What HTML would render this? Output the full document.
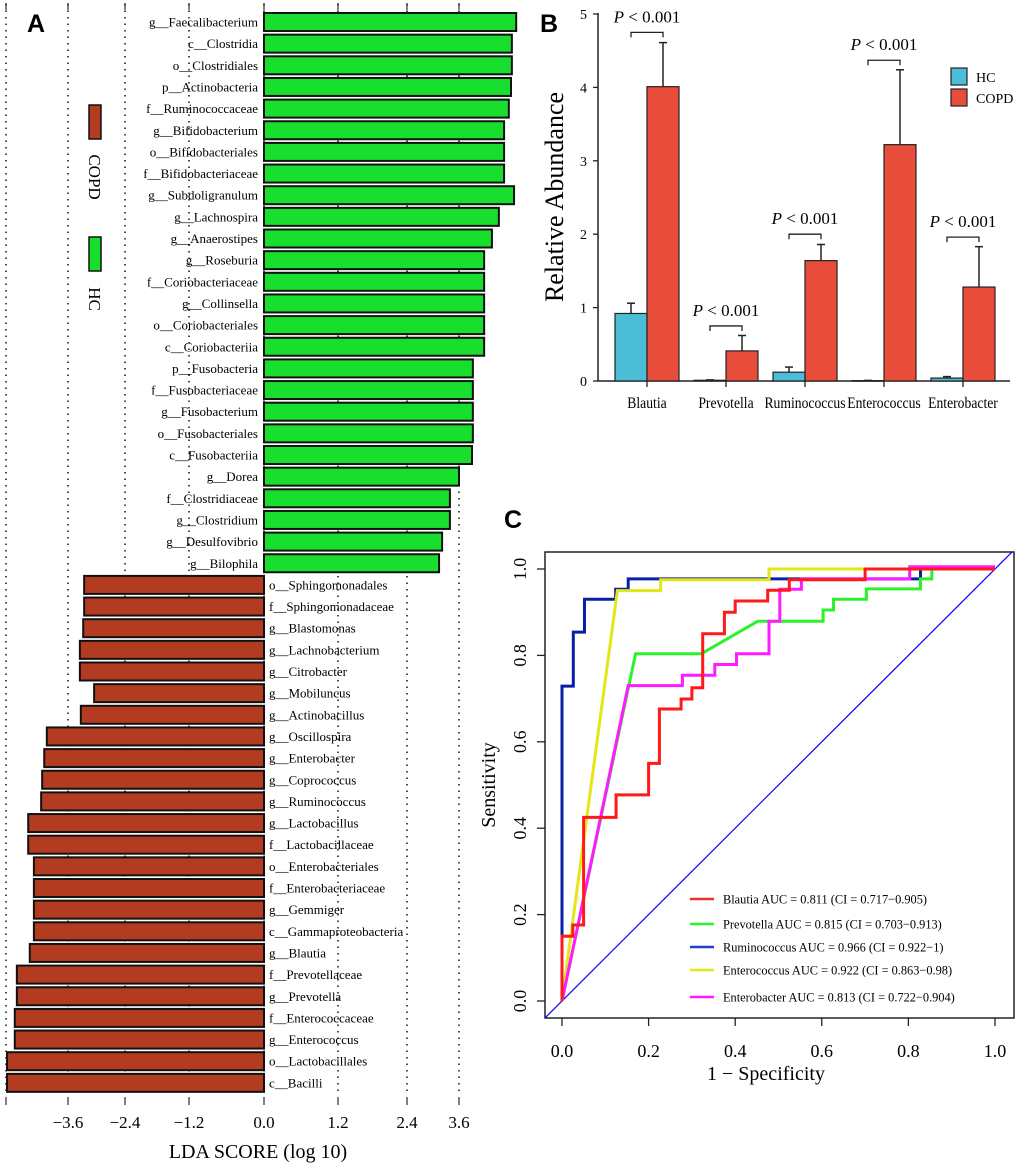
<!DOCTYPE html>
<html><head><meta charset="utf-8"><style>
html,body{margin:0;padding:0;background:#fff;}
svg{display:block;font-family:"Liberation Serif",serif;}
</style></head><body>
<svg id="fig" width="1020" height="1167" viewBox="0 0 1020 1167" xmlns="http://www.w3.org/2000/svg">
<g id="pa"></g>
<g id="pb"></g>
<g id="pc"></g>
</svg>
<script>
// ===== Panel A data =====
const ldaGreenTaxa = ["g__Faecalibacterium","c__Clostridia","o__Clostridiales","p__Actinobacteria","f__Ruminococcaceae","g__Bifidobacterium","o__Bifidobacteriales","f__Bifidobacteriaceae","g__Subdoligranulum","g__Lachnospira","g__Anaerostipes","g__Roseburia","f__Coriobacteriaceae","g__Collinsella","o__Coriobacteriales","c__Coriobacteriia","p__Fusobacteria","f__Fusobacteriaceae","g__Fusobacterium","o__Fusobacteriales","c__Fusobacteriia","g__Dorea","f__Clostridiaceae","g__Clostridium","g__Desulfovibrio","g__Bilophila"];
const ldaGreenValues = [4.92,4.82,4.82,4.80,4.75,4.64,4.64,4.64,4.87,4.52,4.36,4.18,4.18,4.18,4.18,4.18,3.92,3.92,3.92,3.92,3.90,3.60,3.39,3.39,3.21,3.14];
const ldaRedTaxa = ["o__Sphingomonadales","f__Sphingomonadaceae","g__Blastomonas","g__Lachnobacterium","g__Citrobacter","g__Mobiluncus","g__Actinobacillus","g__Oscillospira","g__Enterobacter","g__Coprococcus","g__Ruminococcus","g__Lactobacillus","f__Lactobacillaceae","o__Enterobacteriales","f__Enterobacteriaceae","g__Gemmiger","c__Gammaproteobacteria","g__Blautia","f__Prevotellaceae","g__Prevotella","f__Enterococcaceae","g__Enterococcus","o__Lactobacillales","c__Bacilli"];
const ldaRedValues = [-3.26,-3.26,-3.28,-3.35,-3.35,-3.05,-3.33,-4.01,-4.06,-4.10,-4.12,-4.37,-4.37,-4.26,-4.26,-4.26,-4.26,-4.34,-4.59,-4.59,-4.63,-4.63,-4.78,-4.78];
const ldaTickValues = [-4.8,-3.6,-2.4,-1.2,0,1.2,2.4,3.6];
const ldaTickLabels = ["","\u22123.6","\u22122.4","\u22121.2","0.0","1.2","2.4","3.6"];

// ===== Panel B data =====
const abCategories = ["Blautia","Prevotella","Ruminococcus","Enterococcus","Enterobacter"];
const abHC = [0.92,0.01,0.12,0.005,0.04];
const abHCErr = [1.06,0.015,0.19,0.008,0.06];
const abCOPD = [4.01,0.41,1.64,3.22,1.28];
const abCOPDErr = [4.61,0.62,1.86,4.24,1.83];
const abBracket = [4.75,0.75,2.0,4.37,1.96];
const abTicks = [0,1,2,3,4,5];

// ===== Panel C data =====
const rocNames = ["Blautia AUC = 0.811 (CI = 0.717\u22120.905)","Prevotella AUC = 0.815 (CI = 0.703\u22120.913)","Ruminococcus AUC = 0.966 (CI = 0.922\u22121)","Enterococcus AUC = 0.922 (CI = 0.863\u22120.98)","Enterobacter AUC = 0.813 (CI = 0.722\u22120.904)"];
const rocBlautiaX = [0,0,0.025,0.025,0.05,0.05,0.125,0.125,0.2,0.2,0.225,0.225,0.275,0.275,0.3,0.3,0.325,0.325,0.375,0.375,0.4,0.4,0.475,0.475,0.525,0.525,0.7,0.7,1];
const rocBlautiaY = [0,0.15,0.15,0.176,0.176,0.425,0.425,0.477,0.477,0.55,0.55,0.676,0.676,0.699,0.699,0.725,0.725,0.85,0.85,0.9,0.9,0.926,0.926,0.951,0.951,0.975,0.975,1,1];
const rocPrevotellaX = [0,0.17,0.322,0.452,0.603,0.603,0.627,0.627,0.703,0.703,0.828,0.828,0.854,0.854,1];
const rocPrevotellaY = [0,0.804,0.804,0.879,0.879,0.905,0.905,0.93,0.93,0.954,0.954,0.977,0.977,1,1];
const rocRuminoX = [0,0,0.026,0.026,0.052,0.052,0.124,0.124,0.153,0.153,0.828,0.828,1];
const rocRuminoY = [0,0.729,0.729,0.854,0.854,0.93,0.93,0.953,0.953,0.977,0.977,1,1];
const rocEnterococcusX = [0,0.128,0.228,0.228,0.478,0.478,1];
const rocEnterococcusY = [0,0.95,0.95,0.975,0.975,1,1];
const rocEnterobacterX = [0,0.153,0.278,0.278,0.353,0.353,0.403,0.403,0.478,0.478,0.503,0.503,0.553,0.553,0.803,0.803,1];
const rocEnterobacterY = [0,0.73,0.73,0.754,0.754,0.779,0.779,0.804,0.804,0.879,0.879,0.953,0.953,0.977,0.977,1.005,1.005];
const rocAxisTicks = [0,0.2,0.4,0.6,0.8,1.0];

const NS="http://www.w3.org/2000/svg";
function mk(parent,tag,attrs,text){const e=document.createElementNS(NS,tag);for(const k in attrs)e.setAttribute(k,attrs[k]);if(text!==undefined)e.textContent=text;parent.appendChild(e);return e;}
function squeeze(t,f){try{const w=t.getComputedTextLength();if(w>0){t.setAttribute('textLength',(w*f).toFixed(1));t.setAttribute('lengthAdjust','spacingAndGlyphs');}}catch(e){}}

// ===== Panel A =====
(function(){
const g=document.getElementById('pa');
const anchorPx=[6,68,125,189,264,338,407,459];
function xA(v){
  const t=ldaTickValues;
  if(v>=t[t.length-1]) return anchorPx[7]+(v-t[7])*(52/1.2);
  for(let i=0;i<t.length-1;i++){ if(v>=t[i]&&v<=t[i+1]) return anchorPx[i]+(v-t[i])/(t[i+1]-t[i])*(anchorPx[i+1]-anchorPx[i]); }
  return anchorPx[0]+(v-t[0])*(62/1.2);
}
function yA(i){return 22+i*21.65;}
ldaTickValues.forEach((v,i)=>{
  const x=xA(v);
  const gl=mk(g,'line',{x1:x,y1:4,x2:x,y2:1094,stroke:'#000','stroke-width':1.4,'stroke-dasharray':'1.5,5'});
  
  
  const tt=mk(g,'line',{x1:x,y1:3,x2:x,y2:10,stroke:'#000','stroke-width':1});
  
  
  const tb=mk(g,'line',{x1:x,y1:1097,x2:x,y2:1105,stroke:'#000','stroke-width':1});
  
  
  if(ldaTickLabels[i]){
    const tl=mk(g,'text',{x:x,y:1128,'font-size':17,'text-anchor':'middle'},ldaTickLabels[i]);
    
    
  }
});
const x0=xA(0);
ldaGreenValues.forEach((v,i)=>{
  const y=yA(i);
  const r=mk(g,'rect',{x:x0,y:y-9,width:xA(v)-x0,height:18,fill:'#18de2e',stroke:'#111','stroke-width':2});
  
  
  const t=mk(g,'text',{x:x0-6,y:y+4.5,'font-size':13,'text-anchor':'end'},ldaGreenTaxa[i]);
  
  
});
ldaRedValues.forEach((v,i)=>{
  const y=yA(ldaGreenValues.length+i);
  const xl=xA(v);
  const r=mk(g,'rect',{x:xl,y:y-9,width:x0-xl,height:18,fill:'#b23b22',stroke:'#111','stroke-width':2});
  
  
  const t=mk(g,'text',{x:x0+5,y:y+4.5,'font-size':13},ldaRedTaxa[i]);
  
  
});
const xt=mk(g,'text',{x:258,y:1158,'font-size':20,'text-anchor':'middle'},'LDA SCORE (log 10)');


const la=mk(g,'text',{x:36,y:32,'font-size':25,'font-weight':'bold','font-family':'Liberation Sans, sans-serif','text-anchor':'middle'},'A');


const lc=mk(g,'rect',{x:89,y:105,width:12,height:34,fill:'#b23b22',stroke:'#111','stroke-width':1.5});


const lct=mk(g,'text',{x:0,y:0,'font-size':17,'text-anchor':'middle',transform:'translate(89,177) rotate(90)'},'COPD');


const lh=mk(g,'rect',{x:89,y:237,width:12,height:34,fill:'#18de2e',stroke:'#111','stroke-width':1.5});


const lht=mk(g,'text',{x:0,y:0,'font-size':17,'text-anchor':'middle',transform:'translate(89,299) rotate(90)'},'HC');


})();

// ===== Panel B =====
(function(){
const g=document.getElementById('pb');
const axX=598, y0=381, ppu=73.4;
function yB(v){return y0-v*ppu;}
function cx(i){return 647+i*79;}
const bw=32;
mk(g,'line',{x1:axX,y1:yB(0),x2:axX,y2:yB(5)-1,stroke:'#222','stroke-width':1.5});
mk(g,'line',{x1:axX,y1:yB(0),x2:1010,y2:yB(0),stroke:'#222','stroke-width':1.5});
abTicks.forEach(v=>{
  const t=mk(g,'line',{x1:axX-5,y1:yB(v),x2:axX,y2:yB(v),stroke:'#222','stroke-width':1.3});
  
  
  const l=mk(g,'text',{x:axX-11,y:yB(v)+5,'font-size':14,'text-anchor':'end'},String(v));
  
  
});
abCategories.forEach((c,i)=>{
  const c0=cx(i);
  const tk=mk(g,'line',{x1:c0,y1:y0,x2:c0,y2:y0+6,stroke:'#222','stroke-width':1.3});
  
  
  const cl=mk(g,'text',{x:c0,y:408,'font-size':15.5,'text-anchor':'middle'},c);
  
  
  squeeze(cl,0.88);
  [[abHC[i],abHCErr[i],c0-bw/2],[abCOPD[i],abCOPDErr[i],c0+bw/2]].forEach(([v,e,ex])=>{
    const el=mk(g,'line',{x1:ex,y1:yB(v),x2:ex,y2:yB(e),stroke:'#222','stroke-width':1.5});
    
    
    const ec=mk(g,'line',{x1:ex-4,y1:yB(e),x2:ex+4,y2:yB(e),stroke:'#222','stroke-width':1.5});
    
    
  });
  const hb=mk(g,'rect',{x:c0-bw,y:yB(abHC[i]),width:bw,height:Math.max(0.5,abHC[i]*ppu),fill:'#4bbdd7',stroke:'#222','stroke-width':1.2});
  
  
  const cb=mk(g,'rect',{x:c0,y:yB(abCOPD[i]),width:bw,height:abCOPD[i]*ppu,fill:'#e84c3a',stroke:'#222','stroke-width':1.2});
  
  
  const by=yB(abBracket[i]);
  const br=mk(g,'path',{d:`M${c0-bw/2},${by+5}V${by}H${c0+bw/2}V${by+5}`,fill:'none',stroke:'#222','stroke-width':1.3});
  
  
  const pt=mk(g,'text',{x:c0,y:by-10,'font-size':17,'text-anchor':'middle'});
  
  
  mk(pt,'tspan',{'font-style':'italic'},'P');
  mk(pt,'tspan',{},' < 0.001');
});
const yt=mk(g,'text',{x:0,y:0,'font-size':26,'text-anchor':'middle',transform:'translate(563,197) rotate(-90)'},'Relative Abundance');


const lb=mk(g,'text',{x:549,y:32,'font-size':25,'font-weight':'bold','font-family':'Liberation Sans, sans-serif','text-anchor':'middle'},'B');


const l1=mk(g,'rect',{x:951,y:68,width:16,height:17,fill:'#4bbdd7',stroke:'#222','stroke-width':1.2});


const l1t=mk(g,'text',{x:976,y:82,'font-size':14},'HC');


const l2=mk(g,'rect',{x:951,y:89,width:16,height:17,fill:'#e84c3a',stroke:'#222','stroke-width':1.2});


const l2t=mk(g,'text',{x:976,y:103,'font-size':14},'COPD');


})();

// ===== Panel C =====
(function(){
const g=document.getElementById('pc');
const X0=562,X1=995,Y0=1001,Y1=569;
function xC(v){return X0+v*(X1-X0);}
function yC(v){return Y0-v*(Y0-Y1);}
const bx=545,by=552,bx2=1014,by2=1018;
mk(g,'defs',{}).innerHTML=`<clipPath id="cclip"><rect x="${bx}" y="${by}" width="${bx2-bx}" height="${by2-by}"/></clipPath>`;
const box=mk(g,'rect',{x:bx,y:by,width:bx2-bx,height:by2-by,fill:'none',stroke:'#222','stroke-width':1.5});


const dg=mk(g,'line',{x1:xC(-0.1),y1:yC(-0.1),x2:xC(1.1),y2:yC(1.1),stroke:'#0000ff','stroke-width':1.2,'clip-path':'url(#cclip)'});


rocAxisTicks.forEach(v=>{
  const tx=mk(g,'line',{x1:xC(v),y1:by2,x2:xC(v),y2:by2+8,stroke:'#222','stroke-width':1.3});
  
  
  const lx=mk(g,'text',{x:xC(v),y:1057,'font-size':18,'text-anchor':'middle'},v.toFixed(1));
  
  
  const ty=mk(g,'line',{x1:bx-8,y1:yC(v),x2:bx,y2:yC(v),stroke:'#222','stroke-width':1.3});
  
  
  const ly=mk(g,'text',{x:0,y:0,'font-size':18,'text-anchor':'middle',transform:`translate(526,${yC(v)}) rotate(-90)`},v.toFixed(1));
  
  
});
const series=[[rocBlautiaX,rocBlautiaY,'#ff1a1a'],[rocPrevotellaX,rocPrevotellaY,'#2bf22b'],[rocRuminoX,rocRuminoY,'#0a1fa8'],[rocEnterococcusX,rocEnterococcusY,'#e3e617'],[rocEnterobacterX,rocEnterobacterY,'#ff1aff']];
const names=['blautia','prevotella','ruminococcus','enterococcus','enterobacter'];
const order=[2,3,1,4,0];
order.forEach(k=>{
  const [xs,ys,col]=series[k];
  const d=xs.map((x,i)=>(i?'L':'M')+xC(x).toFixed(1)+','+yC(ys[i]).toFixed(1)).join('');
  const p=mk(g,'path',{d:d,fill:'none',stroke:col,'stroke-width':3,'stroke-linejoin':'miter'});
  
  
});
const legY=[899,924,947,970,997];
const legCols=['#e8352a','#2bf22b','#1f3fcc','#e3e617','#ff1aff'];
rocNames.forEach((n,i)=>{
  const ll=mk(g,'line',{x1:690,y1:legY[i],x2:714,y2:legY[i],stroke:legCols[i],'stroke-width':2.5});
  
  
  const lt=mk(g,'text',{x:723,y:legY[i]+4.5,'font-size':13},n);
  
  
  squeeze(lt,0.95);
});
const xt=mk(g,'text',{x:766,y:1080,'font-size':20,'text-anchor':'middle'},'1 \u2212 Specificity');


const yt=mk(g,'text',{x:0,y:0,'font-size':20,'text-anchor':'middle',transform:'translate(495,785) rotate(-90)'},'Sensitivity');


const lc=mk(g,'text',{x:513,y:528,'font-size':25,'font-weight':'bold','font-family':'Liberation Sans, sans-serif','text-anchor':'middle'},'C');


})();
</script>
</body></html>
